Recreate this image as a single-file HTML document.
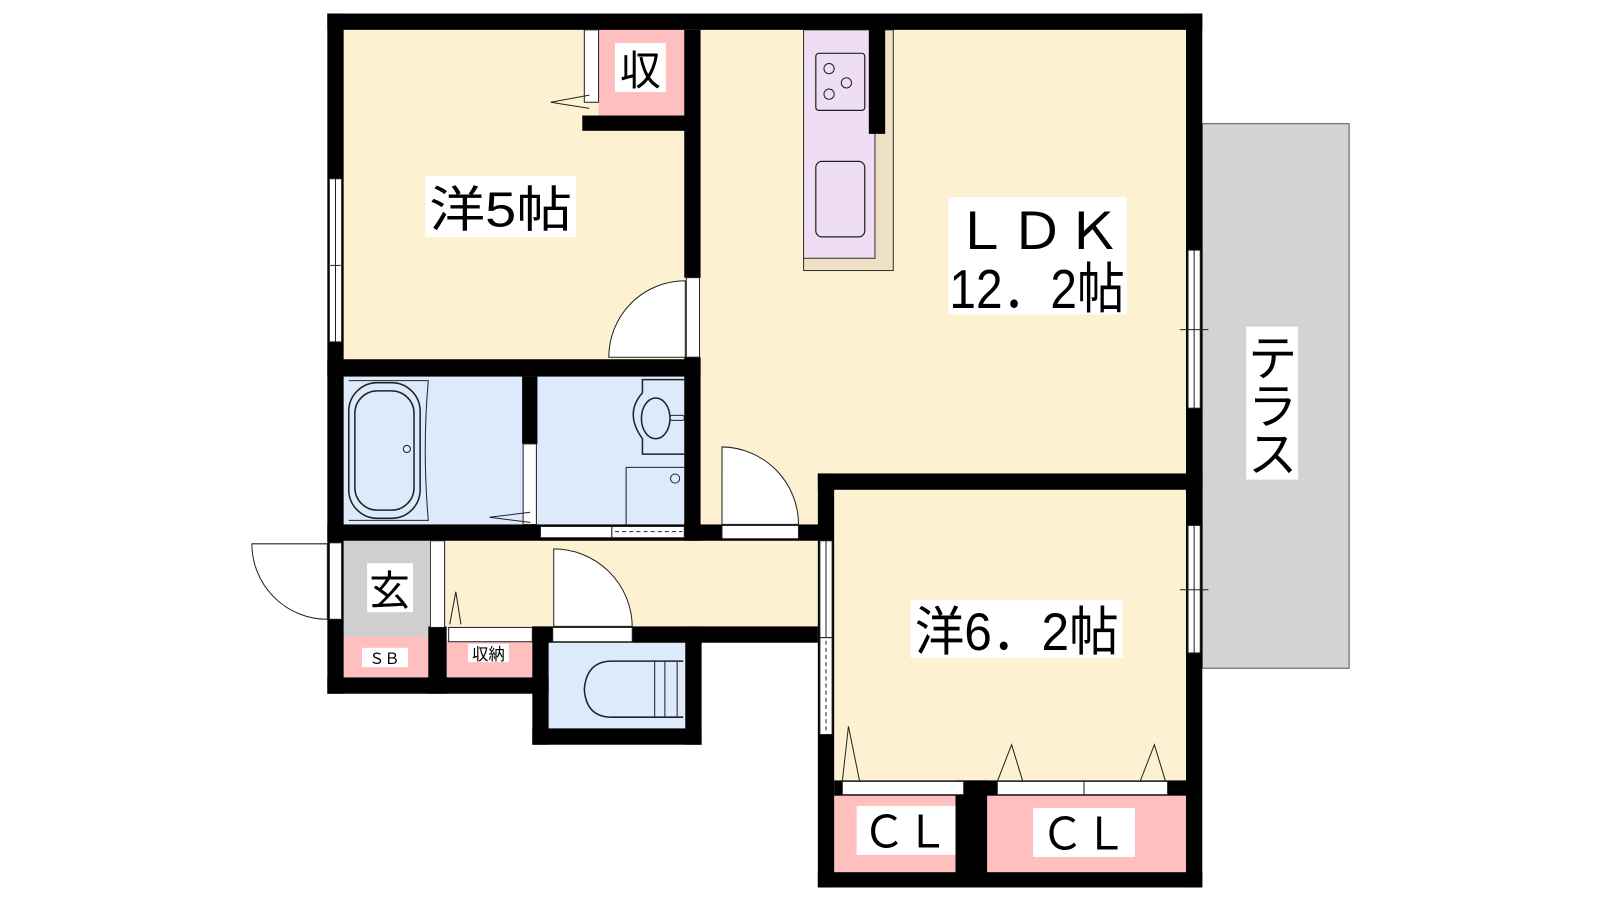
<!DOCTYPE html>
<html><head><meta charset="utf-8"><style>
html,body{margin:0;padding:0;background:#fff;width:1600px;height:900px;overflow:hidden}
svg{display:block}
text{font-family:"Liberation Sans","Noto Sans CJK JP",sans-serif;fill:#000}
</style></head><body>
<svg width="1600" height="900" viewBox="0 0 1569 882" xmlns="http://www.w3.org/2000/svg">
<!-- terrace -->
<rect x="1179" y="121" width="144" height="534" fill="#d3d3d3" stroke="#555" stroke-width="1"/>
<!-- floors -->
<rect x="337" y="29" width="336" height="325" fill="#fdf1d2"/>
<rect x="687" y="29" width="476" height="437" fill="#fdf1d2"/>
<rect x="687" y="460" width="118" height="60" fill="#fdf1d2"/>
<rect x="818" y="478" width="345" height="290" fill="#fdf1d2"/>
<rect x="436" y="528" width="370" height="88" fill="#fdf1d2"/>
<rect x="337" y="367" width="336" height="149" fill="#dceafb"/>
<rect x="538" y="628" width="136" height="88" fill="#dceafb"/>
<rect x="337" y="528" width="84" height="100" fill="#cfcfcf"/>
<rect x="337" y="624" width="84" height="42" fill="#ffbfbf"/>
<rect x="436" y="628" width="88" height="38" fill="#ffbfbf"/>
<rect x="587" y="29" width="86" height="86" fill="#ffbfbf"/>
<rect x="818" y="778" width="121" height="79" fill="#ffbfbf"/>
<rect x="966" y="778" width="197" height="79" fill="#ffbfbf"/>
<!-- kitchen -->
<rect x="788" y="29" width="88" height="236" fill="#efdfc4" stroke="#333" stroke-width="1"/>
<rect x="788" y="29" width="70" height="224" fill="#eeddf5" stroke="#333" stroke-width="1"/>
<rect x="800" y="52" width="48" height="56" rx="3" fill="none" stroke="#222" stroke-width="1.2"/>
<circle cx="813" cy="67" r="5" fill="none" stroke="#222"/><circle cx="830" cy="81" r="5" fill="none" stroke="#222"/><circle cx="813" cy="92" r="5" fill="none" stroke="#222"/>
<rect x="800" y="158" width="48" height="74" rx="6" fill="none" stroke="#222" stroke-width="1.2"/>
<!-- walls -->
<g fill="#000">
<rect x="321" y="13" width="858" height="16"/>
<rect x="321" y="13" width="16" height="667"/>
<rect x="1163" y="13" width="16" height="857"/>
<rect x="671" y="29" width="16" height="243"/>
<rect x="571" y="113" width="102" height="15"/>
<rect x="852" y="29" width="16" height="102"/>
<rect x="321" y="352" width="366" height="17"/>
<rect x="671" y="350" width="16" height="180"/>
<rect x="512" y="369" width="15" height="66"/>
<rect x="321" y="514" width="487" height="16"/>
<rect x="802" y="464" width="377" height="16"/>
<rect x="802" y="464" width="16" height="406"/>
<rect x="802" y="855" width="377" height="15"/>
<rect x="937" y="765" width="31" height="92"/>
<rect x="321" y="664" width="217" height="16"/>
<rect x="420" y="614" width="18" height="66"/>
<rect x="522" y="614" width="280" height="16"/>
<rect x="522" y="614" width="16" height="116"/>
<rect x="522" y="714" width="166" height="16"/>
<rect x="672" y="614" width="16" height="116"/>
<rect x="818" y="765" width="345" height="15"/>
</g>
<!-- windows / door strips -->
<g fill="#fff" stroke="#222" stroke-width="1">
<rect x="323" y="175" width="12" height="160"/>
<rect x="1165" y="245" width="12" height="155"/>
<rect x="1165" y="515" width="12" height="125"/>
<rect x="323" y="532" width="12" height="75"/>
<rect x="422" y="530" width="14" height="85"/>
<rect x="573" y="29" width="14" height="71"/>
<rect x="673" y="272" width="13" height="78"/>
<rect x="513" y="435" width="13" height="79"/>
<rect x="530" y="516" width="70" height="11"/>
<rect x="600" y="516" width="71" height="11"/>
<rect x="708" y="515" width="75" height="13"/>
<rect x="542" y="615" width="78" height="14"/>
<rect x="440" y="615" width="82" height="14"/>
<rect x="804" y="530" width="12" height="95"/>
<rect x="804" y="625" width="12" height="95"/>
<rect x="826" y="766" width="119" height="13"/>
<rect x="978" y="766" width="85" height="13"/>
<rect x="1063" y="766" width="82" height="13"/>
</g>
<g stroke="#222" stroke-width="1" fill="none">
<line x1="329" y1="175" x2="329" y2="335"/><line x1="1171" y1="245" x2="1171" y2="400"/><line x1="1171" y1="515" x2="1171" y2="640"/>
<line x1="1157" y1="323" x2="1185" y2="323"/><line x1="1157" y1="578" x2="1185" y2="578"/>
<line x1="810" y1="530" x2="810" y2="625"/>
<line x1="810" y1="628" x2="810" y2="718" stroke-dasharray="4 3"/>
<line x1="603" y1="521" x2="669" y2="521" stroke-dasharray="4 3"/>
<line x1="324" y1="260" x2="334" y2="260"/>
<!-- door arcs -->
<path d="M597 350 A75 75 0 0 1 672 275 L672 350 Z" fill="#fff"/>
<path d="M708 438 A76 76 0 0 1 783 514 L708 514 Z" fill="#fff"/>
<path d="M543 538 A77 77 0 0 1 620 614 L543 614 Z" fill="#fff"/>
<path d="M321 607 A74 74 0 0 1 247 533 L321 533 Z" fill="#fff"/>
<!-- triangles -->
<path d="M540 100 L578 93 M540 100 L578 106"/>
<path d="M480 507 L520 502 M480 507 L520 512"/>
<path d="M441 612 L447 580 L452 612"/>
<path d="M826 766 L832 712 L843 766"/>
<path d="M978 766 L992 730 L1003 766"/>
<path d="M1118 766 L1132 730 L1143 766"/>
<!-- bath tub -->
<rect x="342" y="375" width="70" height="133" rx="28" stroke-width="1.5"/>
<rect x="348" y="383" width="58" height="117" rx="22" stroke-width="1.5"/>
<circle cx="399" cy="440" r="3.5"/>
<path d="M342 373 L420 373 Q414 440 420 510 L342 510" />
<!-- wash basin -->
<path d="M671 372 L630 372 L630 385 Q612 405 630 430 L630 445 L671 445" stroke-width="1.5"/>
<ellipse cx="643" cy="410" rx="14" ry="20" stroke-width="1.5"/>
<rect x="657" y="407" width="14" height="5" rx="2"/>
<path d="M614 514 L614 458 L671 458"/>
<circle cx="662" cy="469" r="4.5"/>
<!-- toilet -->
<path d="M670 648 L600 648 Q575 648 573 676 Q575 703 600 703 L670 703" stroke-width="1.5"/>
<path d="M652 648 L652 703 M664 648 L664 703 M642 648 L642 703"/>
</g>
<!-- labels -->
<rect x="417" y="172" width="148" height="60" fill="#fff"/>
<text x="491" y="222" font-size="48" text-anchor="middle" textLength="140" lengthAdjust="spacingAndGlyphs">洋5帖</text>
<rect x="603" y="42" width="50" height="48" fill="#fff"/>
<text x="628" y="83" font-size="40" text-anchor="middle">収</text>
<rect x="930" y="193" width="175" height="115" fill="#fff"/>
<text x="1017" y="244" font-size="50" text-anchor="middle" textLength="165" lengthAdjust="spacingAndGlyphs">ＬＤＫ</text>
<text x="1017" y="302" font-size="54" text-anchor="middle" textLength="172" lengthAdjust="spacingAndGlyphs">12．2帖</text>
<rect x="1222" y="320" width="51" height="150" fill="#fff"/>
<text x="1248" y="368" font-size="48" text-anchor="middle">テ</text>
<text x="1248" y="415" font-size="48" text-anchor="middle">ラ</text>
<text x="1248" y="462" font-size="48" text-anchor="middle">ス</text>
<rect x="360" y="552" width="45" height="48" fill="#fff"/>
<text x="382" y="593" font-size="40" text-anchor="middle">玄</text>
<rect x="355" y="635" width="45" height="19" fill="#fff"/>
<text x="377" y="651" font-size="15" text-anchor="middle">ＳＢ</text>
<rect x="459" y="631" width="40" height="18" fill="#fff"/>
<text x="479" y="647" font-size="16" text-anchor="middle">収納</text>
<rect x="893" y="588" width="208" height="57" fill="#fff"/>
<text x="997" y="637" font-size="52" text-anchor="middle" textLength="200" lengthAdjust="spacingAndGlyphs">洋6．2帖</text>
<rect x="840" y="790" width="97" height="48" fill="#fff"/>
<text x="888" y="831" font-size="44" text-anchor="middle" textLength="85" lengthAdjust="spacingAndGlyphs">ＣＬ</text>
<rect x="1013" y="792" width="100" height="48" fill="#fff"/>
<text x="1063" y="833" font-size="44" text-anchor="middle" textLength="85" lengthAdjust="spacingAndGlyphs">ＣＬ</text>
</svg>
</body></html>
